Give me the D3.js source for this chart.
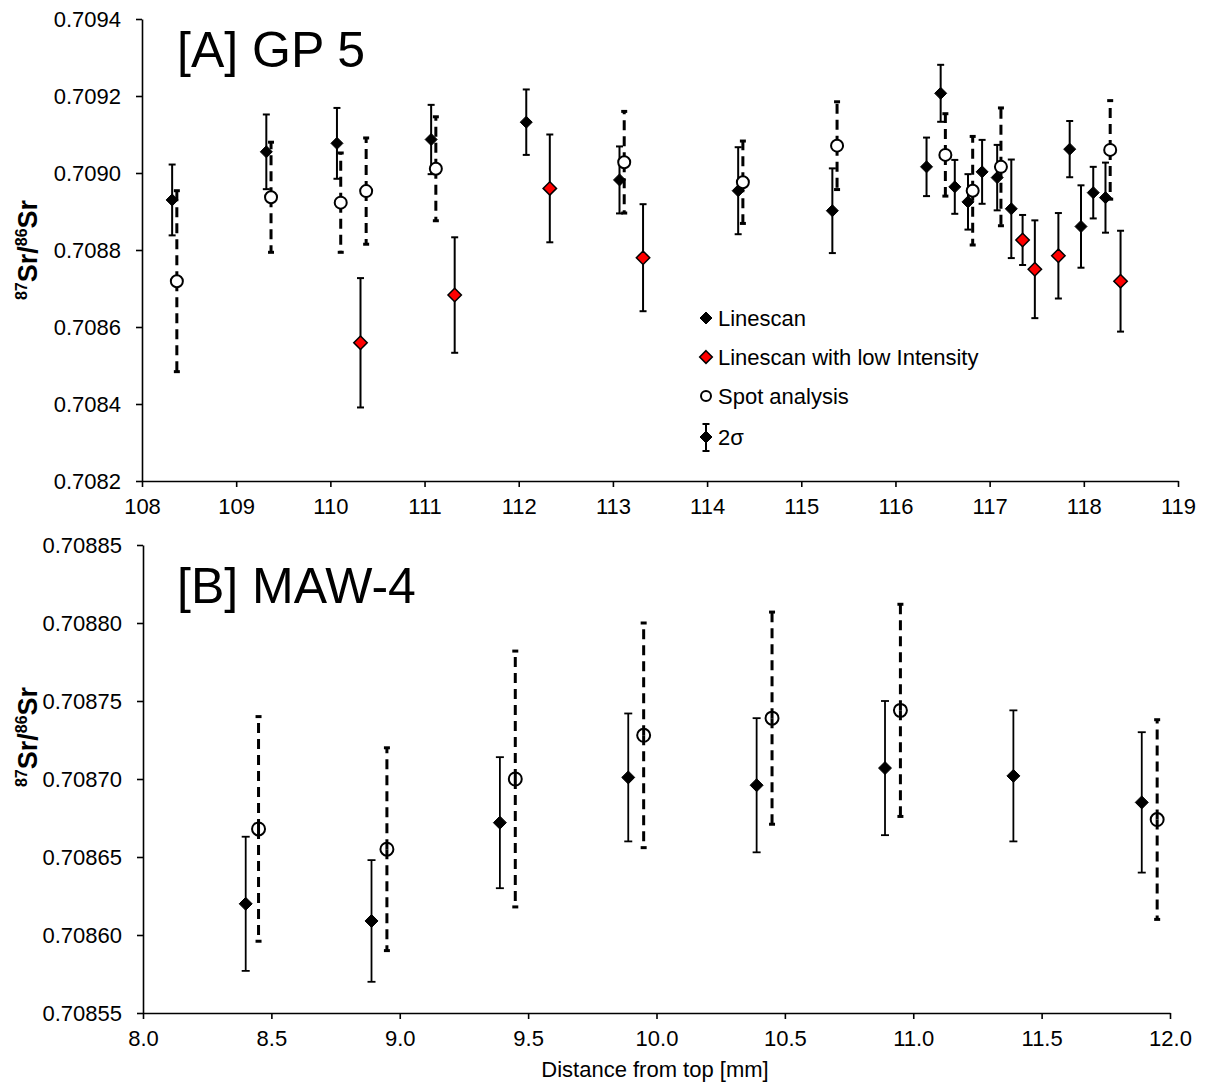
<!DOCTYPE html>
<html>
<head>
<meta charset="utf-8">
<script src="https://cdn.jsdelivr.net/npm/d3@7"></script>
<style>
  body { margin: 0; background: #fff; }
  svg text { font-family: "Liberation Sans", Arial, sans-serif; fill: #000; }
</style>
</head>
<body>
<div id="chart"></div>
<script>
// each row: [distance, 87Sr/86Sr, 2 sigma]
// [A] GP 5
const gpLinescan = [
  [108.32, 0.708930, 0.000092], [109.32, 0.709055, 0.000097], [110.07, 0.709077, 0.000092],
  [111.07, 0.709087, 0.000090], [112.08, 0.709132, 0.000085], [113.07, 0.708982, 0.000087],
  [114.33, 0.708954, 0.000113], [115.33, 0.708902, 0.000110], [116.33, 0.709016, 0.000076],
  [116.48, 0.709207, 0.000074], [116.63, 0.708964, 0.000070], [116.77, 0.708925, 0.000072],
  [116.92, 0.709003, 0.000083], [117.08, 0.708988, 0.000085], [117.23, 0.708907, 0.000128],
  [117.85, 0.709062, 0.000073], [117.97, 0.708861, 0.000107], [118.10, 0.708949, 0.000067],
  [118.23, 0.708936, 0.000091]
];
const gpLowIntensity = [
  [110.32, 0.708559, 0.000168], [111.32, 0.708683, 0.000150], [112.33, 0.708960, 0.000140],
  [113.32, 0.708780, 0.000139], [117.35, 0.708826, 0.000065], [117.48, 0.708750, 0.000127],
  [117.73, 0.708785, 0.000111], [118.39, 0.708719, 0.000131]
];
const gpSpot = [
  [108.37, 0.708719, 0.000235], [109.37, 0.708937, 0.000143], [110.11, 0.708923, 0.000129],
  [110.38, 0.708953, 0.000138], [111.12, 0.709011, 0.000135], [113.12, 0.709028, 0.000132],
  [114.38, 0.708976, 0.000107], [115.38, 0.709071, 0.000114], [116.53, 0.709047, 0.000107],
  [116.82, 0.708954, 0.000141], [117.12, 0.709016, 0.000153], [118.28, 0.709060, 0.000128]
];
// [B] MAW-4
const mawLinescan = [
  [8.40, 0.708620, 0.000043], [8.89, 0.708609, 0.000039], [9.39, 0.708672, 0.000042],
  [9.89, 0.708701, 0.000041], [10.39, 0.708696, 0.000043], [10.89, 0.708707, 0.000043],
  [11.39, 0.708702, 0.000042], [11.89, 0.708685, 0.000045]
];
const mawSpot = [
  [8.45, 0.708668, 0.000072], [8.95, 0.708655, 0.000065], [9.45, 0.708700, 0.000082],
  [9.95, 0.708728, 0.000072], [10.45, 0.708739, 0.000068], [10.95, 0.708744, 0.000068],
  [11.95, 0.708674, 0.000064]
];

const gpXTicks = [108, 109, 110, 111, 112, 113, 114, 115, 116, 117, 118, 119];
const gpYTicks = [0.7082, 0.7084, 0.7086, 0.7088, 0.7090, 0.7092, 0.7094];
const mawXTicks = [8.0, 8.5, 9.0, 9.5, 10.0, 10.5, 11.0, 11.5, 12.0];
const mawYTicks = [0.70855, 0.70860, 0.70865, 0.70870, 0.70875, 0.70880, 0.70885];
const legendLabels = ["Linescan", "Linescan with low Intensity", "Spot analysis", "2σ"];

const svg = d3.select("#chart").append("svg")
  .attr("width", 1206)
  .attr("height", 1086);

// excel style diamond (square turned 45 deg)
const diamond = {
  draw(ctx, size) {
    const r = Math.sqrt(size / 2);
    ctx.moveTo(0, -r); ctx.lineTo(r, 0); ctx.lineTo(0, r); ctx.lineTo(-r, 0); ctx.closePath();
  }
};

function errorBars(g, data, x, y, o) {
  const bars = g.append("g")
    .attr("stroke", "#000")
    .attr("stroke-width", o.width)
    .attr("fill", "none");
  data.forEach(d => {
    const cx = x(d[0]), cy = y(d[1]), top = y(d[1] + d[2]), bot = y(d[1] - d[2]);
    // plus and minus parts start at the point, like excel does
    [top, bot].forEach(end => {
      bars.append("line")
        .attr("x1", cx).attr("x2", cx).attr("y1", cy).attr("y2", end)
        .attr("stroke-dasharray", o.dash || null);
      bars.append("line")
        .attr("x1", cx - o.cap).attr("x2", cx + o.cap).attr("y1", end).attr("y2", end);
    });
  });
}

function markers(g, data, x, y, sym, size, fill, stroke, sw) {
  g.append("g").selectAll("path")
    .data(data)
    .join("path")
    .attr("transform", d => `translate(${x(d[0])},${y(d[1])})`)
    .attr("d", d3.symbol().type(sym).size(size))
    .attr("fill", fill)
    .attr("stroke", stroke)
    .attr("stroke-width", sw);
}

function drawPanel(p) {
  const g = svg.append("g");
  const x = d3.scaleLinear().domain(p.xDomain).range([p.left, p.right]);
  const y = d3.scaleLinear().domain(p.yDomain).range([p.bottom, p.top]);

  const xAxis = g.append("g")
    .attr("transform", `translate(0,${p.bottom})`)
    .call(d3.axisBottom(x).tickValues(p.xTicks).tickFormat(d3.format(p.xFmt))
      .tickSize(6).tickSizeOuter(0).tickPadding(11));
  const yAxis = g.append("g")
    .attr("transform", `translate(${p.left},0)`)
    .call(d3.axisLeft(y).tickValues(p.yTicks).tickFormat(d3.format(p.yFmt))
      .tickSize(6).tickSizeOuter(0).tickPadding(15));
  [xAxis, yAxis].forEach(a => {
    a.attr("font-family", null).attr("font-size", 22);
    a.selectAll("path, line").attr("stroke", "#000").attr("stroke-width", 1.6);
  });

  // y axis title 87Sr/86Sr
  const yt = g.append("text")
    .attr("transform", `translate(37,${p.labelY}) rotate(-90)`)
    .attr("text-anchor", "middle")
    .attr("font-weight", "bold")
    .attr("font-size", 27);
  yt.append("tspan").attr("font-size", 16).attr("dy", -10).text("87");
  yt.append("tspan").attr("dy", 10).text("Sr/");
  yt.append("tspan").attr("font-size", 16).attr("dy", -10).text("86");
  yt.append("tspan").attr("dy", 10).text("Sr");

  g.append("text")
    .attr("x", 177)
    .attr("y", p.titleY)
    .attr("font-size", 50)
    .text(p.title);

  p.draw(g, x, y);
}

// [A] GP 5
drawPanel({
  xDomain: [108, 119], yDomain: [0.7082, 0.7094],
  left: 142, right: 1178, top: 19, bottom: 481,
  xTicks: gpXTicks, yTicks: gpYTicks, xFmt: "d", yFmt: ".4f",
  labelY: 250, title: "[A] GP 5", titleY: 67,
  draw(g, x, y) {
    errorBars(g, gpLinescan, x, y, { width: 2, cap: 3.5 });
    markers(g, gpLinescan, x, y, diamond, 72, "#000", "#000", 1);
    errorBars(g, gpLowIntensity, x, y, { width: 2, cap: 3.5 });
    markers(g, gpLowIntensity, x, y, diamond, 90, "#ff0000", "#000", 1.5);
    errorBars(g, gpSpot, x, y, { width: 3, cap: 3, dash: "10,6" });
    markers(g, gpSpot, x, y, d3.symbolCircle, Math.PI * 36, "#fff", "#000", 2);

    // legend
    const lg = g.append("g").attr("transform", "translate(706,318)");
    const rowY = [0, 39, 78, 119];
    const item = lg.selectAll("g.item")
      .data(legendLabels)
      .join("g")
      .attr("class", "item")
      .attr("transform", (d, i) => `translate(0,${rowY[i]})`);
    item.append("text")
      .attr("x", 12)
      .attr("y", 7.5)
      .attr("font-size", 22)
      .text(d => d);
    const sym = [
      [diamond, 72, "#000", 1],
      [diamond, 80, "#ff0000", 1.5],
      [d3.symbolCircle, Math.PI * 25, "#fff", 2],
      [diamond, 72, "#000", 1]
    ];
    item.each(function (d, i) {
      const s = d3.select(this);
      if (i === 3) {
        s.append("line").attr("x1", 0).attr("x2", 0).attr("y1", -13).attr("y2", 14)
          .attr("stroke", "#000").attr("stroke-width", 2);
        [-13, 14].forEach(v => s.append("line")
          .attr("x1", -3.5).attr("x2", 3.5).attr("y1", v).attr("y2", v)
          .attr("stroke", "#000").attr("stroke-width", 2));
      }
      s.append("path")
        .attr("d", d3.symbol().type(sym[i][0]).size(sym[i][1]))
        .attr("fill", sym[i][2])
        .attr("stroke", "#000")
        .attr("stroke-width", sym[i][3]);
    });
  }
});

// [B] MAW-4
drawPanel({
  xDomain: [8, 12], yDomain: [0.70855, 0.70885],
  left: 143, right: 1170, top: 545, bottom: 1013,
  xTicks: mawXTicks, yTicks: mawYTicks, xFmt: ".1f", yFmt: ".5f",
  labelY: 737, title: "[B] MAW-4", titleY: 603,
  draw(g, x, y) {
    errorBars(g, mawLinescan, x, y, { width: 1.8, cap: 4 });
    markers(g, mawLinescan, x, y, diamond, 84, "#000", "#000", 1);
    markers(g, mawSpot, x, y, d3.symbolCircle, Math.PI * 42, "none", "#000", 2);
    errorBars(g, mawSpot, x, y, { width: 3, cap: 3, dash: "10,6" });
  }
});

svg.append("text")
  .attr("x", 655)
  .attr("y", 1077)
  .attr("text-anchor", "middle")
  .attr("font-size", 22)
  .text("Distance from top [mm]");
</script>
</body>
</html>
